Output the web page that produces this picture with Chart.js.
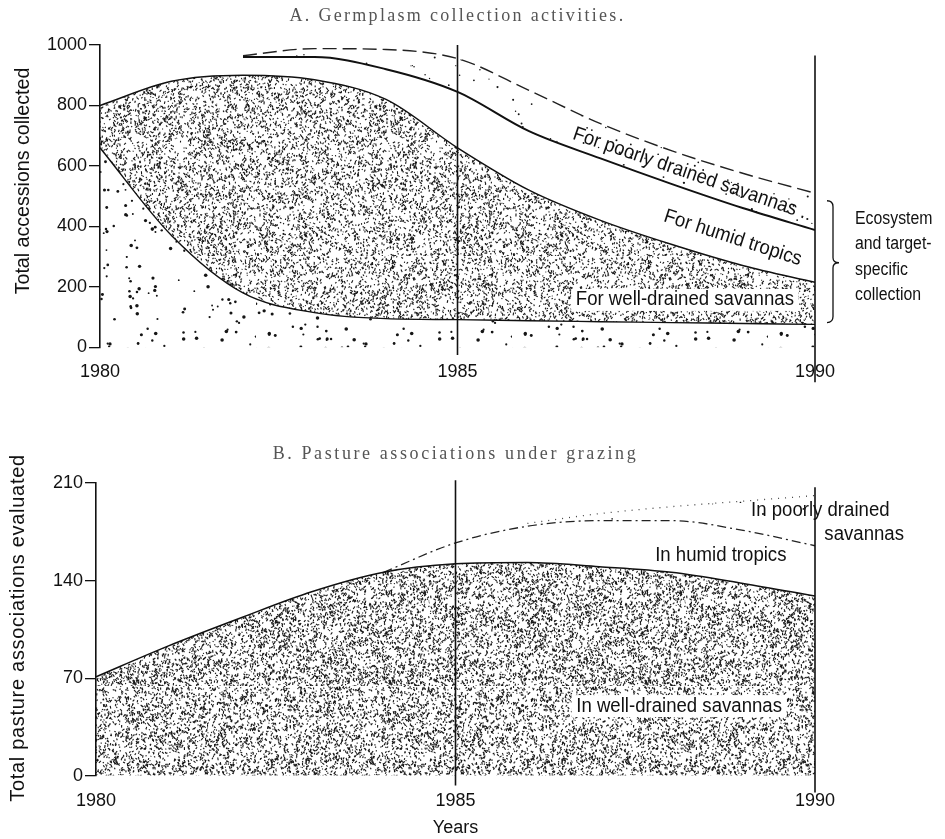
<!DOCTYPE html>
<html>
<head>
<meta charset="utf-8">
<script src="https://cdn.jsdelivr.net/npm/chart.js@4.4.1/dist/chart.umd.min.js"></script>
<style>
  body { margin: 0; background: #fff; }
  #wrapA { position: absolute; left: 0; top: 0; width: 945px; height: 400px; }
  #wrapB { position: absolute; left: 0; top: 430px; width: 945px; height: 409px; }
</style>
</head>
<body>
<div id="wrapA"><canvas id="chartA"></canvas></div>
<div id="wrapB"><canvas id="chartB"></canvas></div>
<script>
// ---- data ----
const years = [1980, 1981, 1982, 1983, 1984, 1985, 1986, 1987, 1988, 1989, 1990];
const xTicks = [1980, 1985, 1990];

// A. Germplasm collection activities (upper edge of each band)
const aGeneral      = [660, 370, 180, 115, 95, 92, 88, 85, 82, 79, 76];
const aWellDrained  = [800, 880, 900, 885, 820, 660, 520, 420, 340, 270, 215];
const aHumidTropics = [null, null, 960, 960, 920, 845, 715, 625, 540, 460, 388];
const aPoorlyDrained= [null, null, 965, 988, 985, 955, 850, 740, 650, 575, 510];
const aTicks = [0, 200, 400, 600, 800, 1000];

// B. Pasture associations under grazing
const bWellDrained  = [71, 93, 113, 132, 146, 152, 153, 150, 146, 138, 129];
const bHumidTropics = [null, null, null, null, 146, 167, 179, 183, 183, 176, 165];
const bPoorlyDrained= [null, null, null, null, null, null, 181, 188, 193, 197, 201];
const bTicks = [0, 70, 140, 210];

const SANS = "'Liberation Sans', Arial, sans-serif";
const SERIF = "'Liberation Serif', 'DejaVu Serif', serif";

function pts(arr) {
  return years.map((x, i) => ({ x: x, y: arr[i] })).filter(p => p.y !== null);
}

// seeded generator so the stipple looks the same on every run
function lcg(seed) {
  let s = seed >>> 0;
  return () => (s = (Math.imul(s, 1664525) + 1013904223) >>> 0) / 4294967296;
}

function stipple(size, count, kind, seed) {
  const c = document.createElement('canvas');
  c.width = size; c.height = size;
  const g = c.getContext('2d');
  const r = lcg(seed);
  g.fillStyle = '#151515';
  g.strokeStyle = '#151515';
  for (let i = 0; i < count; i++) {
    const x = r() * size, y = r() * size;
    if (kind === 'dash') {
      const a = Math.PI / 2 + (r() - 0.5) * 2.2;
      const l = 0.8 + r() * 2.2;
      g.lineWidth = 1.1;
      g.beginPath();
      g.moveTo(x, y);
      g.lineTo(x + Math.cos(a) * l, y + Math.sin(a) * l);
      g.stroke();
    } else {
      const rad = kind === 'big' ? 0.9 + r() * 0.9 : 0.6 + r() * 0.5;
      g.beginPath();
      g.arc(x, y, rad, 0, Math.PI * 2);
      g.fill();
    }
  }
  return g.createPattern(c, 'repeat');
}

const patDenseA  = stipple(256, 7000, 'dash', 7);
const patSparseA = stipple(256, 420, 'big', 11);
const patLightA  = stipple(256, 280, 'small', 23);
const patDenseB  = stipple(256, 8400, 'dash', 31);
const patLightB  = stipple(256, 40, 'small', 5);

// text helper: rot in degrees, hs = horizontal squeeze (the figure uses a condensed face)
function drawText(ctx, text, x, y, o) {
  o = o || {};
  ctx.save();
  ctx.translate(x, y);
  ctx.rotate((o.rot || 0) * Math.PI / 180);
  ctx.scale(o.hs || 1, 1);
  ctx.font = o.font || ('20px ' + SANS);
  ctx.letterSpacing = o.spacing || '0px';
  ctx.textAlign = o.align || 'center';
  ctx.textBaseline = 'middle';
  if (o.box) {
    const w = ctx.measureText(text).width;
    const x0 = o.align === 'left' ? 0 : -w / 2;
    ctx.fillStyle = '#fff';
    ctx.fillRect(x0 - 5, -11, w + 10, 22);
  }
  ctx.fillStyle = o.color || '#111';
  ctx.fillText(text, 0, 0);
  ctx.restore();
}

function vLine(ctx, xs, ys, xv, from, to) {
  const px = xs.getPixelForValue(xv);
  ctx.save();
  ctx.strokeStyle = '#111';
  ctx.lineWidth = 1.6;
  ctx.beginPath();
  ctx.moveTo(px, ys.getPixelForValue(to));
  ctx.lineTo(px, ys.getPixelForValue(from));
  ctx.stroke();
  ctx.restore();
}

const bandLabel = { font: '20px ' + SANS, hs: 0.93 };

const extrasA = {
  id: 'extrasA',
  afterDraw(chart) {
    const { ctx, scales: { x, y }, chartArea } = chart;
    vLine(ctx, x, y, 1985, -25, 1000);
    vLine(ctx, x, y, 1990, -115, 965);
    drawText(ctx, 'A. Germplasm collection activities.', (chartArea.left + chartArea.right) / 2, 16,
      { font: '18px ' + SERIF, spacing: '2.3px', color: '#555' });
    drawText(ctx, 'For poorly drained savannas .', x.getPixelForValue(1988.25), y.getPixelForValue(575), Object.assign({ rot: 19 }, bandLabel));
    drawText(ctx, 'For humid tropics', x.getPixelForValue(1988.85), y.getPixelForValue(362), Object.assign({ rot: 18 }, bandLabel));
    drawText(ctx, 'For well-drained savannas', x.getPixelForValue(1988.18), y.getPixelForValue(157), Object.assign({ box: true }, bandLabel));
    // brace for the three target-specific bands
    const bx = x.getPixelForValue(1990) + 18;
    const top = y.getPixelForValue(485), bot = y.getPixelForValue(82), mid = y.getPixelForValue(280);
    ctx.save();
    ctx.strokeStyle = '#111';
    ctx.lineWidth = 1.3;
    ctx.beginPath();
    ctx.moveTo(bx - 6, top);
    ctx.quadraticCurveTo(bx, top, bx, top + 6);
    ctx.lineTo(bx, mid - 5);
    ctx.quadraticCurveTo(bx, mid, bx + 6, mid);
    ctx.quadraticCurveTo(bx, mid, bx, mid + 5);
    ctx.lineTo(bx, bot - 6);
    ctx.quadraticCurveTo(bx, bot, bx - 6, bot);
    ctx.stroke();
    ctx.restore();
    const tx = x.getPixelForValue(1990) + 40;
    ['Ecosystem', 'and target-', 'specific', 'collection'].forEach((t, i) => {
      drawText(ctx, t, tx, y.getPixelForValue([426, 341, 256, 174][i]), { font: '18px ' + SANS, hs: 0.88, align: 'left' });
    });
    drawText(ctx, 'Total accessions collected', 23, 181, { rot: -90, font: '20px ' + SANS, hs: 0.98 });
  }
};

const extrasB = {
  id: 'extrasB',
  afterDraw(chart) {
    const { ctx, scales: { x, y }, chartArea } = chart;
    vLine(ctx, x, y, 1985, -7, 212);
    vLine(ctx, x, y, 1990, -12, 207);
    drawText(ctx, 'B. Pasture associations under grazing', (chartArea.left + chartArea.right) / 2, 24,
      { font: '18px ' + SERIF, spacing: '2.6px', color: '#555' });
    drawText(ctx, 'In poorly drained', x.getPixelForValue(1989.11), y.getPixelForValue(190), Object.assign({ align: 'left' }, bandLabel));
    drawText(ctx, 'savannas', x.getPixelForValue(1990.13), y.getPixelForValue(173), Object.assign({ align: 'left' }, bandLabel));
    drawText(ctx, 'In humid tropics', x.getPixelForValue(1988.69), y.getPixelForValue(158), bandLabel);
    drawText(ctx, 'In well-drained savannas', x.getPixelForValue(1988.11), y.getPixelForValue(50), Object.assign({ box: true }, bandLabel));
    drawText(ctx, 'Total pasture associations evaluated', 18, 628 - 430, { rot: -90, font: '20px ' + SANS, spacing: '0.7px' });
  }
};

function baseOptions(ticks, yMax, leftWidth, pad, xTitle) {
  return {
    responsive: true,
    maintainAspectRatio: false,
    animation: false,
    layout: { padding: pad },
    plugins: {
      legend: { display: false },
      tooltip: { enabled: false },
      title: { display: false }
    },
    elements: { point: { radius: 0 }, line: { cubicInterpolationMode: 'monotone' } },
    scales: {
      x: {
        type: 'linear',
        min: 1980,
        max: 1990,
        afterBuildTicks: (s) => { s.ticks = xTicks.map(v => ({ value: v })); },
        grid: { display: false },
        border: { display: false },
        ticks: { color: '#111', font: { family: SANS, size: 18 }, padding: 6, callback: (v) => String(v) },
        title: xTitle ? { display: true, text: xTitle, color: '#111', font: { family: SANS, size: 18 }, padding: 0 } : { display: false }
      },
      y: {
        min: 0,
        max: yMax,
        afterBuildTicks: (s) => { s.ticks = ticks.map(v => ({ value: v })); },
        afterFit: (s) => { s.width = leftWidth; },
        grid: { drawOnChartArea: false, color: '#111', tickLength: 11, lineWidth: 1.3 },
        border: { display: true, color: '#111', width: 1.6 },
        ticks: { color: '#111', font: { family: SANS, size: 18 }, padding: 2, callback: (v) => String(v) }
      }
    }
  };
}

new Chart(document.getElementById('chartA'), {
  type: 'line',
  data: {
    datasets: [
      { label: 'General collection', data: pts(aGeneral), borderColor: '#111', borderWidth: 1.4, backgroundColor: patSparseA, fill: 'origin' },
      { label: 'For well-drained savannas', data: pts(aWellDrained), borderColor: '#111', borderWidth: 1.5, backgroundColor: patDenseA, fill: '-1' },
      { label: 'For humid tropics', data: pts(aHumidTropics), borderColor: '#111', borderWidth: 2, fill: false },
      { label: 'For poorly drained savannas', data: pts(aPoorlyDrained), borderColor: '#222', borderWidth: 1.4, borderDash: [14, 6], backgroundColor: patLightA, fill: '-1' }
    ]
  },
  options: baseOptions(aTicks, 1000, 100, { top: 45, bottom: 11, left: 0, right: 130 }),
  plugins: [extrasA]
});

new Chart(document.getElementById('chartB'), {
  type: 'line',
  data: {
    datasets: [
      { label: 'In well-drained savannas', data: pts(bWellDrained), borderColor: '#111', borderWidth: 1.5, backgroundColor: patDenseB, fill: 'origin' },
      { label: 'In humid tropics', data: pts(bHumidTropics), borderColor: '#222', borderWidth: 1.3, borderDash: [9, 4, 2, 4], fill: false },
      { label: 'In poorly drained savannas', data: pts(bPoorlyDrained), borderColor: '#444', borderWidth: 1.3, borderDash: [1, 6], backgroundColor: patLightB, fill: '-1' }
    ]
  },
  options: baseOptions(bTicks, 210, 96, { top: 53, bottom: 0, left: 0, right: 130 }, 'Years'),
  plugins: [extrasB]
});
</script>
</body>
</html>
